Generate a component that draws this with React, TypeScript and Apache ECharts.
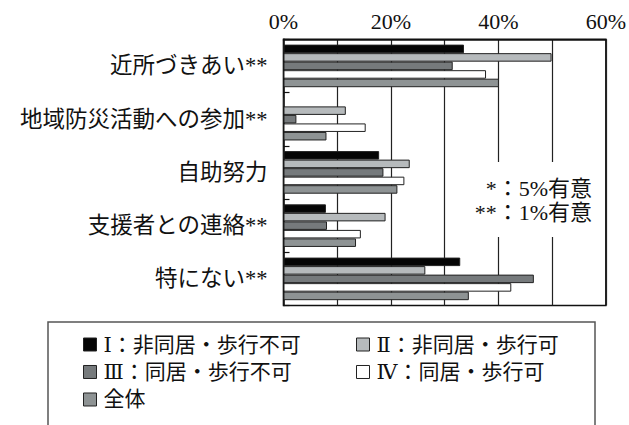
import React, { useEffect, useRef } from "react";
import * as echarts from "echarts";

const categories = ["近所づきあい**", "地域防災活動への参加**", "自助努力", "支援者との連絡**", "特にない**"];
const seriesNames = ["Ⅰ：非同居・歩行不可", "Ⅱ：非同居・歩行可", "Ⅲ：同居・歩行不可", "Ⅳ：同居・歩行可", "全体"];
const seriesColors = ["#050505", "#b6babc", "#767a7c", "#ffffff", "#8e9394"];
const s1Values = [33.6, 0, 17.8, 7.9, 32.9];
const s2Values = [49.9, 11.6, 23.5, 19.0, 26.4];
const s3Values = [31.5, 2.4, 18.6, 8.1, 46.6];
const s4Values = [37.7, 15.3, 22.5, 14.4, 42.4];
const s5Values = [40.1, 8.0, 21.2, 13.5, 34.5];
const allValues = [s1Values, s2Values, s3Values, s4Values, s5Values];
const noteLines = ["*：5%有意", "**：1%有意"];

const FONT = "'Liberation Serif', 'DejaVu Serif', 'Noto Sans CJK JP', serif";

export default function App() {
  const ref = useRef<HTMLDivElement>(null);
  useEffect(() => {
    if (!ref.current) return;
    const chart = echarts.init(ref.current, null, { renderer: "svg" });
    const option: any = {
      animation: false,
      backgroundColor: "#ffffff",
      textStyle: { fontFamily: FONT },
      grid: {
        left: 283.5,
        right: 23,
        top: 39.3,
        bottom: 119.5,
        show: true,
        borderColor: "#111",
        borderWidth: 1.5,
        backgroundColor: "transparent",
      },
      xAxis: {
        type: "value",
        position: "top",
        min: 0,
        max: 60,
        interval: 10,
        axisLine: { show: true, lineStyle: { color: "#111", width: 1.5 } },
        axisTick: { show: false },
        splitLine: { show: true, lineStyle: { color: "#222", width: 1.2 } },
        axisLabel: {
          margin: 7,
          fontSize: 22,
          color: "#111",
          fontFamily: FONT,
          formatter: (v: number) => (v % 20 === 0 ? v + "%" : ""),
        },
      },
      yAxis: {
        type: "category",
        inverse: true,
        data: categories,
        axisLine: { show: true, lineStyle: { color: "#111", width: 1.5 } },
        axisTick: { show: true, inside: true, length: 6, lineStyle: { color: "#111", width: 1.2 } },
        axisLabel: { margin: 16, fontSize: 22.5, color: "#111", fontFamily: FONT },
        splitLine: { show: false },
      },
      legend: [
        {
          orient: "vertical",
          left: 78,
          top: 329,
          data: [seriesNames[0], seriesNames[2], seriesNames[4]],
          icon: "rect",
          itemWidth: 13,
          itemHeight: 13,
          itemGap: 6.5,
          itemStyle: { borderColor: "#222", borderWidth: 1 },
          textStyle: { fontSize: 21, color: "#111", fontFamily: FONT, padding: [0, 0, 0, 2] },
        },
        {
          orient: "vertical",
          left: 351,
          top: 329,
          data: [seriesNames[1], seriesNames[3]],
          icon: "rect",
          itemWidth: 13,
          itemHeight: 13,
          itemGap: 6.5,
          itemStyle: { borderColor: "#222", borderWidth: 1 },
          textStyle: { fontSize: 21, color: "#111", fontFamily: FONT, padding: [0, 0, 0, 2] },
        },
      ],
      series: seriesNames.map((name, i) => ({
        name,
        type: "bar",
        data: allValues[i],
        barGap: "0%",
        barCategoryGap: "20%",
        itemStyle: { color: seriesColors[i], borderColor: "#222", borderWidth: 1 },
      })),
      graphic: [
        {
          type: "rect",
          z: 100,
          shape: { x: 472, y: 162, width: 131, height: 75 },
          style: { fill: "#ffffff", stroke: "none" },
        },
        {
          type: "text",
          z: 101,
          x: 592,
          y: 188,
          style: { text: noteLines[0], fontSize: 22, fontFamily: FONT, fill: "#111", align: "right", verticalAlign: "middle" },
        },
        {
          type: "text",
          z: 101,
          x: 592,
          y: 212,
          style: { text: noteLines[1], fontSize: 22, fontFamily: FONT, fill: "#111", align: "right", verticalAlign: "middle" },
        },
        {
          type: "rect",
          z: 100,
          shape: { x: 48, y: 322, width: 547, height: 130 },
          style: { fill: "none", stroke: "#555", lineWidth: 1.5 },
        },
      ],
    };
    chart.setOption(option);
    return () => chart.dispose();
  }, []);
  return <div ref={ref} style={{ position: "fixed", left: 0, top: 0, width: 629, height: 425 }} />;
}
